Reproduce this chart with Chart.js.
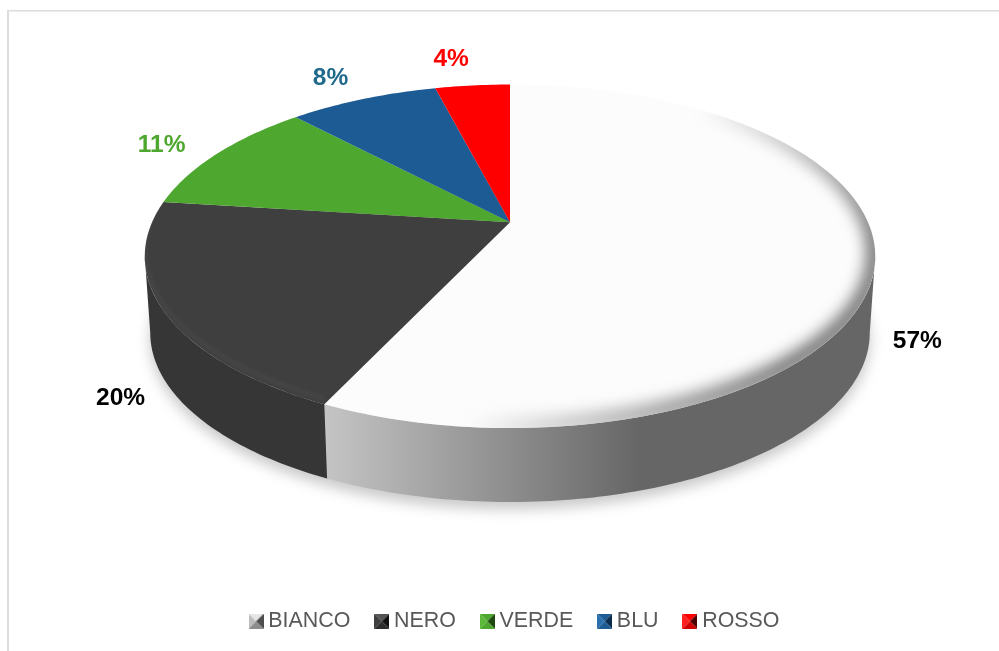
<!DOCTYPE html>
<html>
<head>
<meta charset="utf-8">
<style>
  html, body { margin: 0; padding: 0; background: #fff; }
  #box { position: relative; width: 999px; height: 651px; }
</style>
<script src="https://cdn.jsdelivr.net/npm/chart.js@4"></script>
</head>
<body>
<div id="box"><canvas id="torta"></canvas></div>
<script>
// Dati del grafico
const categorie = ["BIANCO", "NERO", "VERDE", "BLU", "ROSSO"];
const valori = [57, 20, 11, 8, 4];

// Colori
const coloriFetta = ["#fcfcfc", "#3f3f3f", "#4ea72e", "#1d5b94", "#ff0000"];
const coloriEtichetta = ["#000000", "#000000", "#4ea72e", "#1f6a8c", "#ff0000"];
const coloriIcona = [
  ["#e6e6e6", "#bdbdbd", "#4d4d4d", "#8c8c8c"],
  ["#555555", "#3f3f3f", "#111111", "#2d2d2d"],
  ["#4ea72e", "#5cb83a", "#1c4a0e", "#4ea72e"],
  ["#1d5b94", "#2a6fae", "#0c2c4d", "#1d5b94"],
  ["#ff0000", "#ff2020", "#4a0000", "#d00000"]
];

// Prospettiva: il disco viene proiettato attorno al centro del grafico
const inclinazione = 0.198;   // quanto si ingrandisce il lato verso chi guarda
const schiacciamento = 0.461; // rapporto altezza/larghezza
const spessore = 77;
const rientroBase = 0.985;

function proietta(el, angolo, raggio, scala, dy) {
  const X = Math.cos(angolo) * raggio, Y = Math.sin(angolo) * raggio;
  const w = 1 - inclinazione * Y;
  return {
    x: el.x + el.outerRadius * scala * X / w,
    y: el.y + (dy || 0) + el.outerRadius * schiacciamento * scala * Y / w
  };
}

function tracciaBordo(ctx, el, da, a, scala, dy, prima) {
  const passi = Math.max(8, Math.ceil(Math.abs(a - da) * 60));
  for (let i = 0; i <= passi; i++) {
    const p = proietta(el, da + (a - da) * i / passi, 1, scala, dy);
    if (i === 0 && prima) ctx.moveTo(p.x, p.y); else ctx.lineTo(p.x, p.y);
  }
}

// Fetta disegnata in prospettiva dagli angoli calcolati da Chart.js
class ArcoProspettiva extends Chart.ArcElement {
  static id = "arcoProspettiva";
  draw(ctx) {
    const c = proietta(this, 0, 0, 1);
    ctx.save();
    ctx.beginPath();
    ctx.moveTo(c.x, c.y);
    tracciaBordo(ctx, this, this.startAngle, this.endAngle, 1, 0, false);
    ctx.closePath();
    ctx.fillStyle = this.options.backgroundColor;
    ctx.fill();
    ctx.clip();

    // Smussatura del bordo superiore
    if (this.$context.index === 0) {
      const sfum = ctx.createLinearGradient(450, 200, 750, 420);
      sfum.addColorStop(0.4, "rgba(102,102,102,0)");
      sfum.addColorStop(1, "rgba(102,102,102,1)");
      ctx.filter = "blur(8px)";
      ctx.lineWidth = 16;
      ctx.translate(0, -3);
      ctx.strokeStyle = sfum;
    } else {
      ctx.filter = "blur(2px)";
      ctx.lineWidth = 3;
      ctx.translate(0, -6);
      ctx.strokeStyle = "rgba(255,255,255,0.06)";
    }
    ctx.beginPath();
    tracciaBordo(ctx, this, this.startAngle, this.endAngle, 1, 0, true);
    ctx.stroke();
    ctx.restore();
  }
}

class TortaProspettiva extends Chart.PieController {
  static id = "tortaProspettiva";
  static defaults = { dataElementType: "arcoProspettiva" };
}

Chart.register(ArcoProspettiva, TortaProspettiva);

// Ombra a terra e pareti laterali, sotto le fette
const pluginPareti = {
  id: "pareti",
  beforeDatasetsDraw(chart) {
    const ctx = chart.ctx;
    const archi = chart.getDatasetMeta(0).data;
    const el = archi[0];
    const limite = Math.asin(inclinazione);

    ctx.save();
    ctx.filter = "blur(7px)";
    ctx.fillStyle = "rgba(0,0,0,0.22)";
    ctx.beginPath();
    tracciaBordo(ctx, el, 0, Math.PI * 2, rientroBase, spessore + 7, true);
    ctx.closePath();
    ctx.fill();
    ctx.restore();

    archi.forEach((arco, i) => {
      const da = Math.max(arco.startAngle, limite);
      const a = Math.min(arco.endAngle, Math.PI - limite);
      if (a <= da) return;
      ctx.save();
      ctx.beginPath();
      tracciaBordo(ctx, arco, da, a, 1, 0, true);
      tracciaBordo(ctx, arco, a, da, rientroBase, spessore, false);
      ctx.closePath();
      if (i === 0) {
        const g = ctx.createLinearGradient(320, 0, 640, 0);
        g.addColorStop(0, "#c6c6c6");
        g.addColorStop(1, "#666666");
        ctx.fillStyle = g;
      } else {
        ctx.fillStyle = "#363636";
      }
      ctx.fill();
      ctx.restore();
    });
  },
  // Etichette percentuali fuori dal disco
  afterDatasetsDraw(chart) {
    const ctx = chart.ctx;
    chart.getDatasetMeta(0).data.forEach((arco, i) => {
      const medio = (arco.startAngle + arco.endAngle) / 2;
      const Y = Math.sin(medio);
      const p = proietta(arco, medio, Y < 0 ? 1.12 : 1.11, 1);
      ctx.save();
      ctx.font = "bold 24.5px 'Liberation Sans', Arial, sans-serif";
      ctx.fillStyle = coloriEtichetta[i];
      ctx.textBaseline = "middle";
      ctx.textAlign = Y < 0 ? "right" : "center";
      const y = Y < 0 ? p.y + Y * Y * Y * 13 : p.y + spessore;
      ctx.fillText(valori[i] + "%", p.x, y);
      ctx.restore();
    });
  }
};

// La legenda sta in basso, staccata dall'area della torta
const pluginLegenda = {
  id: "spostaLegenda",
  afterLayout(chart) {
    const l = chart.legend;
    l.top += 136;
    l.bottom += 136;
    l.left += 7;
    l.right += 7;
  }
};

// Cornice chiara a sinistra e in alto
const pluginCornice = {
  id: "cornice",
  beforeDraw(chart) {
    const ctx = chart.ctx;
    ctx.save();
    ctx.fillStyle = "#dcdcdc";
    ctx.fillRect(7, 10, chart.width - 7, 1.5);
    ctx.fillRect(7, 10, 2, chart.height - 10);
    ctx.restore();
  }
};

// Quadratino della legenda con le quattro facce a piramide
function creaIcona(facce) {
  const lato = 15, m = lato / 2;
  const c = document.createElement("canvas");
  c.width = lato;
  c.height = lato;
  const g = c.getContext("2d");
  const angoli = [[0, 0], [lato, 0], [lato, lato], [0, lato]];
  [[0, 1, 0], [3, 0, 1], [1, 2, 2], [2, 3, 3]].forEach(([a, b, f]) => {
    g.beginPath();
    g.moveTo(angoli[a][0], angoli[a][1]);
    g.lineTo(angoli[b][0], angoli[b][1]);
    g.lineTo(m, m);
    g.closePath();
    g.fillStyle = facce[f];
    g.fill();
  });
  return c;
}

const icone = coloriIcona.map(creaIcona);

new Chart(document.getElementById("torta"), {
  type: "tortaProspettiva",
  data: {
    labels: categorie,
    datasets: [{
      data: valori,
      backgroundColor: coloriFetta,
      borderWidth: 0
    }]
  },
  options: {
    responsive: true,
    maintainAspectRatio: false,
    animation: false,
    radius: 358,
    layout: { padding: { left: 21, right: 0, top: 0, bottom: 145 } },
    plugins: {
      tooltip: { enabled: false },
      legend: {
        position: "bottom",
        labels: {
          usePointStyle: true,
          pointStyleWidth: 3,
          padding: 30,
          color: "#595959",
          font: { family: "'Liberation Sans', Arial, sans-serif", size: 21.4 },
          generateLabels() {
            return categorie.map((nome, i) => ({
              text: nome,
              pointStyle: icone[i],
              fontColor: "#595959",
              lineWidth: 0,
              index: i
            }));
          }
        }
      }
    }
  },
  plugins: [pluginCornice, pluginPareti, pluginLegenda]
});
</script>
</body>
</html>
